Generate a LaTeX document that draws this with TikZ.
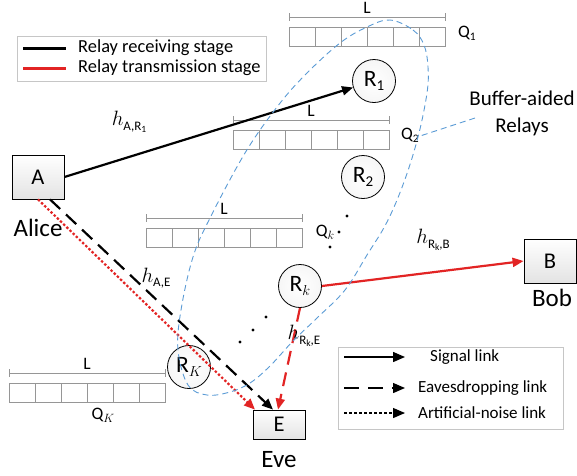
\documentclass[tikz,border=0pt]{standalone}
\usepackage{fontspec}
\setmainfont{Carlito}
\usetikzlibrary{arrows.meta}

\definecolor{linkred}{RGB}{226,36,36}
\definecolor{relayblue}{RGB}{91,155,213}
\definecolor{bufgray}{RGB}{150,150,150}

% channel-gain label pieces
\newcommand\hsub[1]{\raisebox{-4.5pt}{\fontsize{13}{13}\selectfont #1}}
\newcommand\hsubsub[1]{\raisebox{-2.5pt}{\fontsize{9.5}{9.5}\selectfont #1}}
\newcommand\rsub[1]{\raisebox{-4.5pt}{\fontsize{15}{15}\selectfont #1}}
\newcommand\qsub[1]{\raisebox{-3pt}{\fontsize{11.5}{11.5}\selectfont #1}}

\tikzset{
  lgbox/.style={draw=gray!45, line width=0.8pt},
  lgtext/.style={anchor=west, inner sep=0pt, font=\fontsize{18.4}{18.4}\selectfont},
  keytext/.style={anchor=west, inner sep=0pt, font=\fontsize{17}{17}\selectfont},
  station/.style={draw=black, line width=0.8pt, minimum width=52pt, inner sep=0pt,
    top color=white, bottom color=gray!22, font=\fontsize{22.5}{22.5}\selectfont},
  who/.style={inner sep=0pt, font=\fontsize{25}{25}\selectfont},
  relay/.style={circle, draw=black, line width=0.8pt, minimum size=43pt, inner sep=0pt,
    inner color=white, outer color=gray!7, font=\fontsize{23.5}{23.5}\selectfont},
  chan/.style={inner sep=0pt, font=\fontsize{22}{22}\selectfont},
  qlabel/.style={inner sep=0pt, font=\fontsize{17.5}{17.5}\selectfont},
  bufline/.style={draw=bufgray, line width=1pt},
  tip/.style={-{Triangle[length=11pt,width=9pt]}},
  keytip/.style={-{Triangle[length=12pt,width=10pt]}},
  sig/.style={tip, line width=2.2pt, draw=black},
  eaves/.style={tip, line width=2.2pt, dash pattern=on 14pt off 8pt},
  noise/.style={tip, line width=2.2pt, dash pattern=on 2.4pt off 2pt},
  relayset/.style={draw=relayblue, line width=0.9pt, dash pattern=on 6pt off 4pt},
  pics/buffer/.style={code={
    \draw[bufline] (0,0) rectangle (156,19);
    \foreach \i in {1,...,5} \draw[bufline] (26*\i,0) -- (26*\i,19);
    \draw[bufline] (0,-10) -- (156,-10);
    \draw[bufline] (0,-14) -- (0,-6);
    \draw[bufline] (156,-14) -- (156,-6);
    \node[qlabel] at (78,-19) {L};
  }},
}

\begin{document}
\begin{tikzpicture}[x=1pt, y=-1pt]
\useasboundingbox (0,0) rectangle (577,475);

% stage legend
\draw[lgbox] (17,36) rectangle (266,81);
\coordinate (rs1) at (23,48); \coordinate (rs2) at (66,48);
\coordinate (ts1) at (23,68); \coordinate (ts2) at (66,68);
\draw[line width=3pt, black] (rs1) -- (rs2);
\draw[line width=3pt, linkred] (ts1) -- (ts2);
\node[lgtext] (rstext) at (78,48) {Relay receiving stage};
\node[lgtext] (tstext) at (78,68) {Relay transmission stage};

% buffers
\pic at (289,27) {buffer};
\pic at (233,130) {buffer};
\pic at (146,228) {buffer};
\pic at (9,383) {buffer};
\node[qlabel] (q1) at (467,33) {Q\qsub{1}};
\node[qlabel] (q2) at (410,135) {Q\qsub{2}};
\node[qlabel] (qk) at (325,232) {Q\qsub{$k$}};
\node[qlabel] (qK) at (103,415) {Q\qsub{$K$}};

% source, destination, eavesdropper
\node[station, minimum height=44pt] (A) at (38,177) {A};
\node[station, minimum height=44pt] (B) at (550,261) {B};
\node[station, minimum height=29pt] (E) at (279,424.5) {E};
\node[who] (alice) at (38,228) {Alice};
\node[who] (bob) at (552,298) {Bob};
\node[who] (eve) at (279,460) {Eve};

% relays
\node[relay] (R1) at (374,81) {R\rsub{1}};
\node[relay] (R2) at (363,177) {R\rsub{2}};
\node[relay] (Rk) at (300,286) {R\rsub{$k$}};
\node[relay] (RK) at (189,367) {R\rsub{$K$}};

% omitted relays
\foreach \p in {(347,216),(339,232),(330,247),(266,317),(253,330),(240,342)}
  \fill \p circle (1.6pt);

% links
\draw[sig] (A.east) -- (R1);
\draw[eaves, black] ([xshift=12pt]A.south) -- ([xshift=-6pt]E.north);
\draw[noise, linkred] (A.south) -- ([xshift=-24pt]E.north);
\draw[sig, draw=linkred, fill=linkred] (Rk.east) -- (B.west);
\draw[eaves, linkred] (Rk.south) -- ([xshift=-1pt]E.north);

% channel gains
\node[chan] (hAR) at (129,122) {$h$\hsub{A,R\hsubsub{1}}};
\node[chan] (hAE) at (156,278) {$h$\hsub{A,E}};
\node[chan] (hRB) at (433,240) {$h$\hsub{R\hsubsub{k},B}};
\node[chan] (hRE) at (304,336) {$h$\hsub{R\hsubsub{k},E}};

% buffer-aided relay set
\draw[relayset] plot[smooth cycle, tension=0.6] coordinates {
  (390,20) (413,30) (424,45) (428,67) (427,93) (418,137) (404,182) (387,222)
  (367,255) (345,290) (317,318) (293,341) (270,366) (250,383) (230,392)
  (207,395) (188,385) (178,350) (181,310) (193,257) (210,218) (245,153)
  (277,107) (305,75) (340,43) (367,27)};
\node[inner sep=0pt, align=center, font=\fontsize{21}{27}\selectfont] (bar) at (522,113)
  {Buffer-aided\\Relays};
\coordinate (barfoot) at (417,137);
\draw[relayset] ([xshift=-47pt,yshift=-5pt]bar.center) -- (barfoot);

% link-type legend
\draw[lgbox] (338,347) rectangle (563,429);
\coordinate (k1a) at (344,357); \coordinate (k1b) at (405,357);
\coordinate (k2a) at (344,388); \coordinate (k2b) at (405,388);
\coordinate (k3a) at (344,413); \coordinate (k3b) at (405,413);
\draw[keytip, line width=1.4pt] (k1a) -- (k1b);
\draw[keytip, line width=1.4pt, dash pattern=on 15pt off 9pt] (k2a) -- (k2b);
\draw[keytip, line width=1.4pt, dash pattern=on 3pt off 2pt] (k3a) -- (k3b);
\node[keytext] (k1t) at (430,357) {Signal link};
\node[keytext] (k2t) at (418,388) {Eavesdropping link};
\node[keytext] (k3t) at (418,413) {Artificial-noise link};
\end{tikzpicture}
\end{document}
